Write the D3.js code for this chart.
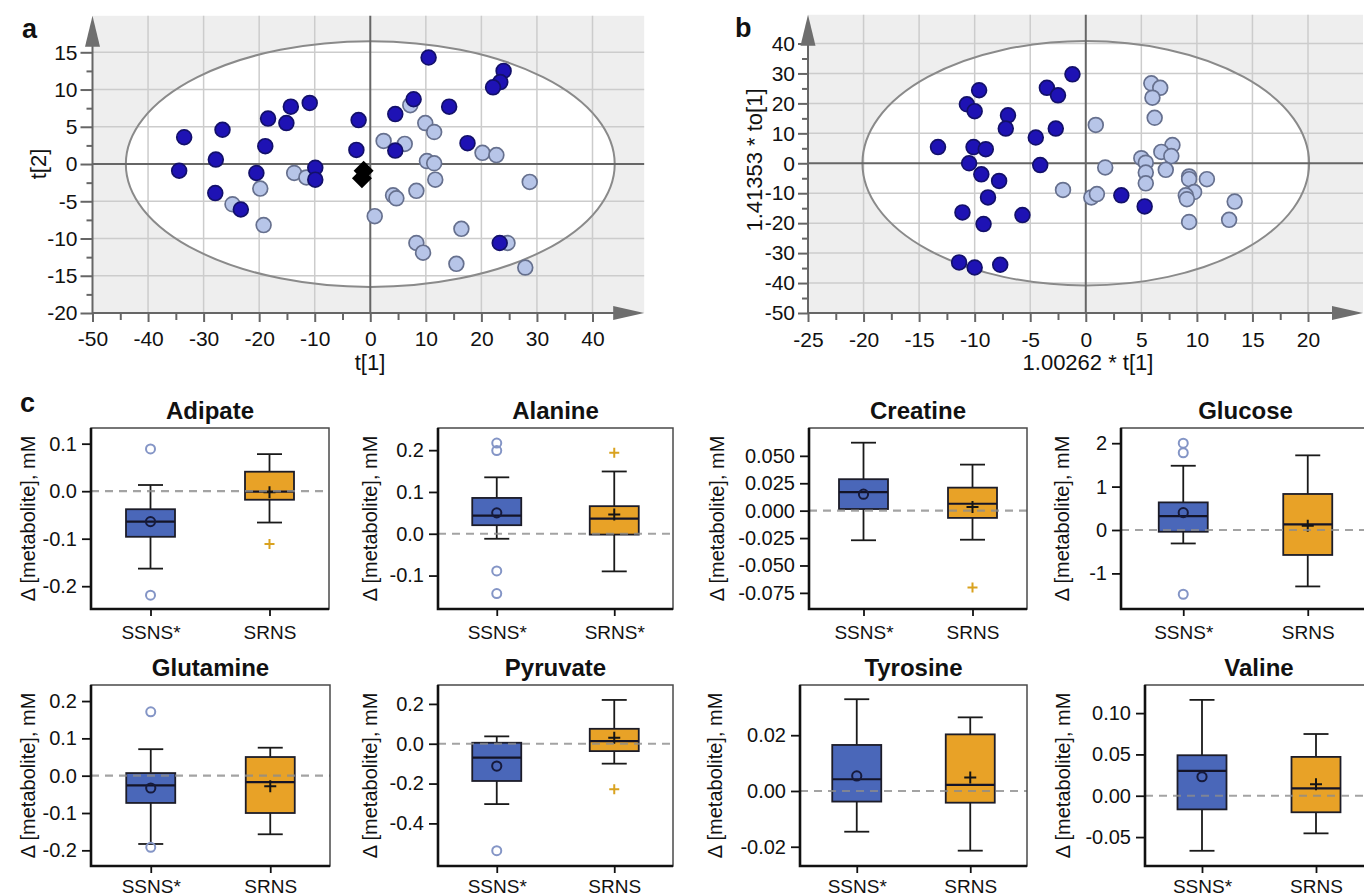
<!DOCTYPE html>
<html>
<head>
<meta charset="utf-8">
<script src="https://cdn.jsdelivr.net/npm/d3@7"></script>
<style>
  body { margin: 0; background: #fff; }
  text { font-family: "Liberation Sans", Arial, sans-serif; fill: #111; }
</style>
</head>
<body>
<svg id="fig" width="1364" height="896"></svg>
<script>
// ---- panel a: PCA scores t[1] / t[2] ----
var scoreADark = [[-33.5,3.6],[-34.4,-0.9],[-26.6,4.6],[-27.8,0.6],[-27.9,-3.9],[-23.3,-6.1],
  [-20.5,-1.2],[-18.9,2.4],[-18.4,6.1],[-15.1,5.5],[-14.3,7.7],[-10.9,8.2],[-9.9,-0.5],[-9.9,-2.1],
  [10.5,14.3],[24.0,12.5],[23.4,11.0],[22.1,10.3],[7.8,8.7],[14.2,7.7],[4.5,6.7],[-2.1,5.9],
  [-2.5,1.9],[4.5,1.8],[17.5,2.8],[23.3,-10.6]];
var scoreALight = [[-24.8,-5.4],[-19.8,-3.3],[-19.2,-8.2],[-13.7,-1.2],[-11.5,-1.8],[7.2,7.9],
  [9.9,5.5],[11.5,4.3],[2.4,3.1],[6.2,2.7],[20.2,1.5],[22.7,1.2],[10.2,0.4],[11.5,0.1],[11.7,-2.1],
  [28.7,-2.4],[4.1,-4.2],[4.7,-4.6],[8.3,-3.6],[0.8,-7.0],[16.4,-8.7],[8.3,-10.6],[9.5,-11.9],
  [24.7,-10.6],[15.5,-13.4],[27.9,-13.9]];
var scoreACentroid = [[-1.2,-0.9],[-1.5,-1.9]];
var ellipseA = [44, 16.5];

// ---- panel b: OPLS scores ----
var scoreBDark = [[-9.6,24.4],[-10.7,19.7],[-10.0,17.4],[-7.0,16.0],[-7.2,11.6],[-13.3,5.4],
  [-10.1,5.4],[-9.0,4.7],[-10.5,0],[-9.4,-3.7],[-7.8,-5.9],[-8.8,-11.4],[-11.1,-16.4],[-5.7,-17.3],
  [-9.2,-20.3],[-11.4,-33.1],[-10.0,-34.8],[-7.7,-33.9],[-4.5,8.6],[-4.1,-0.6],[-3.5,25.2],
  [-2.5,22.7],[-1.2,29.7],[-2.7,11.6],[3.2,-10.7],[5.3,-14.4]];
var scoreBLight = [[5.9,26.7],[6.7,25.2],[6.0,21.9],[6.2,15.2],[0.9,12.8],[7.8,6.1],[6.8,3.8],
  [7.7,2.4],[5.0,1.7],[5.4,0.2],[1.75,-1.4],[7.2,-2.2],[5.4,-3.1],[5.4,-6.7],[9.3,-4.4],[9.3,-5.3],
  [10.9,-5.3],[9.75,-9.6],[9.0,-10.7],[9.1,-12],[-2.05,-8.9],[0.5,-11.4],[1.0,-10.3],[13.4,-12.8],
  [9.3,-19.6],[12.9,-18.9]];
var ellipseB = [20.1, 40.8];

// ---- panel c: box plots ----
var metabolites = ['Adipate','Alanine','Creatine','Glucose','Glutamine','Pyruvate','Tyrosine','Valine'];
var groupLabels = [['SSNS*','SRNS'],['SSNS*','SRNS*'],['SSNS*','SRNS'],['SSNS*','SRNS'],
  ['SSNS*','SRNS'],['SSNS*','SRNS'],['SSNS*','SRNS'],['SSNS*','SRNS']];
// [lower whisker, Q1, median, Q3, upper whisker, mean]
var ssnsBox = [
  [-0.163,-0.096,-0.064,-0.038,0.013,-0.064],
  [-0.012,0.0205,0.0436,0.0857,0.135,0.050],
  [-0.027,0.0015,0.0169,0.0287,0.062,0.015],
  [-0.31,-0.04,0.32,0.636,1.48,0.40],
  [-0.183,-0.073,-0.026,0.007,0.071,-0.033],
  [-0.303,-0.187,-0.07,0.005,0.037,-0.112],
  [-0.0146,-0.0038,0.0042,0.0165,0.0329,0.0054],
  [-0.0666,-0.0165,0.030,0.049,0.116,0.023]
];
var srnsBox = [
  [-0.066,-0.018,-0.001,0.041,0.078,-0.002],
  [-0.090,-0.002,0.036,0.066,0.149,0.046],
  [-0.0265,-0.0066,0.0063,0.021,0.042,0.0033],
  [-1.30,-0.575,0.13,0.83,1.72,0.10],
  [-0.157,-0.10,-0.017,0.050,0.075,-0.028],
  [-0.10,-0.037,0.013,0.075,0.22,0.030],
  [-0.0214,-0.0042,0.0022,0.0203,0.0264,0.0048],
  [-0.0455,-0.020,0.009,0.047,0.0747,0.014]
];
var ssnsOutliers = [[0.089,-0.219],[0.217,0.199,-0.089,-0.143],[],[2.0,1.78,-1.48],[0.171,-0.192],[-0.537],[],[]];
var srnsOutliers = [[-0.111],[0.194],[-0.070],[],[],[-0.228],[],[]];
var yTicks = [[-0.2,-0.1,0,0.1],[-0.1,0,0.1,0.2],[-0.075,-0.05,-0.025,0,0.025,0.05],[-1,0,1,2],
  [-0.2,-0.1,0,0.1,0.2],[-0.4,-0.2,0,0.2],[-0.02,0,0.02],[-0.05,0,0.05,0.1]];
var yTickFormats = ['.1f','.1f','.3f','d','.1f','.1f','.2f','.2f'];
var yRanges = [[-0.248,0.133],[-0.180,0.253],[-0.0897,0.0754],[-1.82,2.35],[-0.242,0.243],
  [-0.614,0.295],[-0.0269,0.038],[-0.085,0.134]];

var svg = d3.select('#fig');
var FONT = '"Liberation Sans", Arial, sans-serif';

function fmt(f) {
  var base = d3.format(f);
  return function (v) { return base(v).replace('\u2212', '-'); };
}

// score scatter plot with gray frame, white ellipse and arrow axes
function scorePlot(o) {
  var g = svg.append('g');
  var x = d3.scaleLinear().domain(o.xDomain).range(o.xRange);
  var y = d3.scaleLinear().domain(o.yDomain).range(o.yRange);
  var left = x(o.xDomain[0]), bottom = y(o.yDomain[0]);
  var right = x(o.bgRight), top = y(o.bgTop);

  g.append('rect').attr('x', left).attr('y', top)
    .attr('width', right - left).attr('height', bottom - top).attr('fill', '#eeeeee');
  g.append('ellipse').attr('cx', x(0)).attr('cy', y(0))
    .attr('rx', x(o.ellipse[0]) - x(0)).attr('ry', y(0) - y(o.ellipse[1])).attr('fill', '#fff');

  g.selectAll('.vgrid').data(o.xGrid).enter().append('line')
    .attr('x1', function (d) { return x(d); }).attr('x2', function (d) { return x(d); })
    .attr('y1', top).attr('y2', bottom).attr('stroke', '#cccccc').attr('stroke-width', 1.5);
  g.selectAll('.hgrid').data(o.yGrid).enter().append('line')
    .attr('y1', function (d) { return y(d); }).attr('y2', function (d) { return y(d); })
    .attr('x1', left).attr('x2', right).attr('stroke', '#cccccc').attr('stroke-width', 1.5);

  g.append('ellipse').attr('cx', x(0)).attr('cy', y(0))
    .attr('rx', x(o.ellipse[0]) - x(0)).attr('ry', y(0) - y(o.ellipse[1]))
    .attr('fill', 'none').attr('stroke', '#8a8a8a').attr('stroke-width', 2);

  // lines through the origin
  g.append('line').attr('x1', x(0)).attr('x2', x(0)).attr('y1', top).attr('y2', bottom)
    .attr('stroke', '#666').attr('stroke-width', 2);
  g.append('line').attr('x1', left).attr('x2', right).attr('y1', y(0)).attr('y2', y(0))
    .attr('stroke', '#666').attr('stroke-width', 2);

  // axes
  g.append('g').attr('transform', 'translate(0,' + bottom + ')')
    .call(d3.axisBottom(x).tickValues(o.xTicks).tickSize(9).tickPadding(o.xPad).tickFormat(fmt('d')));
  g.append('g').attr('transform', 'translate(0,' + bottom + ')')
    .call(d3.axisBottom(x).tickValues(o.xMinor).tickSize(7).tickFormat(''));
  g.append('g').attr('transform', 'translate(' + left + ',0)')
    .call(d3.axisLeft(y).tickValues(o.yTicks).tickSize(o.yTickLen).tickPadding(3).tickFormat(fmt('d')));
  g.append('g').attr('transform', 'translate(' + left + ',0)')
    .call(d3.axisLeft(y).tickValues(o.yMinor).tickSize(6).tickFormat(''));
  g.selectAll('.domain').remove();
  g.selectAll('.tick line').attr('stroke', '#666').attr('stroke-width', 2);
  g.selectAll('.tick text').style('font-family', FONT).style('font-size', '21px').attr('fill', '#111');

  g.append('line').attr('x1', left).attr('x2', right - 20).attr('y1', bottom).attr('y2', bottom)
    .attr('stroke', '#666').attr('stroke-width', 2);
  g.append('line').attr('x1', left).attr('x2', left).attr('y1', bottom).attr('y2', top + 20)
    .attr('stroke', '#666').attr('stroke-width', 2);
  g.append('path').attr('fill', '#6e6e6e')
    .attr('d', 'M' + right + ',' + bottom + 'L' + (right - 31) + ',' + (bottom - 7) + 'L' + (right - 31) + ',' + (bottom + 7) + 'Z');
  g.append('path').attr('fill', '#6e6e6e')
    .attr('d', 'M' + left + ',' + top + 'L' + (left - 7.5) + ',' + (top + 31) + 'L' + (left + 7.5) + ',' + (top + 31) + 'Z');

  // points
  g.selectAll('.light').data(o.light).enter().append('circle')
    .attr('cx', function (d) { return x(d[0]); }).attr('cy', function (d) { return y(d[1]); })
    .attr('r', 7.4).attr('fill', '#b7c5e8').attr('stroke', '#66708e').attr('stroke-width', 1.7);
  g.selectAll('.dark').data(o.dark).enter().append('circle')
    .attr('cx', function (d) { return x(d[0]); }).attr('cy', function (d) { return y(d[1]); })
    .attr('r', 7.4).attr('fill', '#1e12b4').attr('stroke', '#13106a').attr('stroke-width', 1.7);
  if (o.centroid) {
    g.selectAll('.cent').data(o.centroid).enter().append('path')
      .attr('d', d3.symbol(d3.symbolSquare, 200))
      .attr('transform', function (d) { return 'translate(' + x(d[0]) + ',' + y(d[1]) + ') rotate(45)'; })
      .attr('fill', '#000');
  }

  // axis titles
  g.append('text').attr('x', o.xTitlePos[0]).attr('y', o.xTitlePos[1])
    .attr('text-anchor', 'middle').style('font-size', '22px').text(o.xTitle);
  g.append('text').attr('transform', 'translate(' + o.yTitlePos[0] + ',' + o.yTitlePos[1] + ') rotate(-90)')
    .attr('text-anchor', 'middle').attr('dominant-baseline', 'central')
    .style('font-size', '22px').text(o.yTitle);
}

scorePlot({
  xDomain: [-50, 40], xRange: [92.5, 592.5], yDomain: [-20, 15], yRange: [313, 52.3],
  bgRight: 49.3, bgTop: 19.9, ellipse: ellipseA,
  xGrid: [-40, -30, -20, -10, 10, 20, 30, 40], yGrid: [-15, -10, -5, 5, 10, 15],
  xTicks: d3.range(-50, 41, 10), xMinor: d3.range(-45, 36, 10), xPad: 9,
  yTicks: d3.range(-20, 16, 5), yMinor: d3.range(-17.5, 15, 5), yTickLen: 12,
  light: scoreALight, dark: scoreADark, centroid: scoreACentroid,
  xTitle: 't[1]', xTitlePos: [370, 370], yTitle: 't[2]', yTitlePos: [38, 164]
});

scorePlot({
  xDomain: [-25, 20], xRange: [808, 1308], yDomain: [-50, 40], yRange: [313, 43.5],
  bgRight: 24.95, bgTop: 49.6, ellipse: ellipseB,
  xGrid: [-20, -15, -10, -5, 5, 10, 15, 20], yGrid: [-40, -30, -20, -10, 10, 20, 30, 40],
  xTicks: d3.range(-25, 21, 5), xMinor: d3.range(-22.5, 20, 5), xPad: 10,
  yTicks: d3.range(-50, 41, 10), yMinor: d3.range(-45, 36, 10), yTickLen: 10,
  light: scoreBLight, dark: scoreBDark, centroid: null,
  xTitle: '1.00262 * t[1]', xTitlePos: [1088, 370], yTitle: '1.41353 * to[1]', yTitlePos: [754, 160]
});

// panel letters
[['a', 22, 38], ['b', 735, 37], ['c', 20, 412]].forEach(function (l) {
  svg.append('text').attr('x', l[1]).attr('y', l[2]).style('font-size', '27px')
    .style('font-weight', 'bold').text(l[0]);
});

// ---- box plots ----
var frames = [
  [91, 329, 428, 609], [438, 673, 428, 609], [809, 1027, 428, 609], [1121, 1370, 428, 609],
  [91, 330, 685, 866], [438, 673, 685, 866], [800, 1027, 685, 866], [1145, 1373, 685, 866]
];
var yLabelX = [28, 370, 717, 1062, 28, 370, 715, 1063];
var boxColors = ['#4a67b9', '#e8a227'];

function boxPanel(i) {
  var f = frames[i];
  var g = svg.append('g');
  var x = d3.scalePoint().domain([0, 1]).range([f[0], f[1]]).padding(0.5);
  var y = d3.scaleLinear().domain(yRanges[i]).range([f[3], f[2]]);
  var bw = 49, cw = 25;

  [ssnsBox[i], srnsBox[i]].forEach(function (s, k) {
    var cx = x(k);
    var bg = g.append('g');
    bg.append('line').attr('x1', cx).attr('x2', cx).attr('y1', y(s[4])).attr('y2', y(s[3]))
      .attr('stroke', '#1a1a1a').attr('stroke-width', 1.8);
    bg.append('line').attr('x1', cx).attr('x2', cx).attr('y1', y(s[1])).attr('y2', y(s[0]))
      .attr('stroke', '#1a1a1a').attr('stroke-width', 1.8);
    [s[0], s[4]].forEach(function (v) {
      bg.append('line').attr('x1', cx - cw / 2).attr('x2', cx + cw / 2).attr('y1', y(v)).attr('y2', y(v))
        .attr('stroke', '#1a1a1a').attr('stroke-width', 1.8);
    });
    bg.append('rect').attr('x', cx - bw / 2).attr('y', y(s[3])).attr('width', bw)
      .attr('height', y(s[1]) - y(s[3])).attr('fill', boxColors[k])
      .attr('stroke', '#1c1c28').attr('stroke-width', 1.8);
    bg.append('line').attr('x1', cx - bw / 2).attr('x2', cx + bw / 2).attr('y1', y(s[2])).attr('y2', y(s[2]))
      .attr('stroke', '#141428').attr('stroke-width', 2.2);
    if (k === 0) {
      bg.append('circle').attr('cx', cx).attr('cy', y(s[5])).attr('r', 4.6)
        .attr('fill', 'none').attr('stroke', '#161a3c').attr('stroke-width', 2);
    } else {
      bg.append('path').attr('d', 'M' + (cx - 6) + ',' + y(s[5]) + 'h12M' + cx + ',' + (y(s[5]) - 6) + 'v12')
        .attr('stroke', '#151515').attr('stroke-width', 2);
    }
  });

  g.selectAll('.o1').data(ssnsOutliers[i]).enter().append('circle')
    .attr('cx', x(0)).attr('cy', function (d) { return y(d); }).attr('r', 4.5)
    .attr('fill', 'none').attr('stroke', '#8495c6').attr('stroke-width', 2);
  g.selectAll('.o2').data(srnsOutliers[i]).enter().append('path')
    .attr('d', function (d) { return 'M' + (x(1) - 5) + ',' + y(d) + 'h10M' + x(1) + ',' + (y(d) - 5) + 'v10'; })
    .attr('stroke', '#d9a21f').attr('stroke-width', 2);

  // zero reference line
  g.append('line').attr('x1', f[0]).attr('x2', f[1]).attr('y1', y(0)).attr('y2', y(0))
    .attr('stroke', '#8c8c8c').attr('stroke-width', 2.2).attr('stroke-dasharray', '8,6')
    .attr('stroke-opacity', 0.8);

  // frame
  g.append('rect').attr('x', f[0]).attr('y', f[2]).attr('width', f[1] - f[0]).attr('height', f[3] - f[2])
    .attr('fill', 'none').attr('stroke', '#4a4a4a').attr('stroke-width', 1.5);
  g.append('path').attr('d', 'M' + f[0] + ',' + f[2] + 'V' + f[3] + 'H' + f[1])
    .attr('fill', 'none').attr('stroke', '#111').attr('stroke-width', 2.6);

  var ay = g.append('g').attr('transform', 'translate(' + f[0] + ',0)')
    .call(d3.axisLeft(y).tickValues(yTicks[i]).tickSize(9).tickPadding(5).tickFormat(fmt(yTickFormats[i])));
  ay.selectAll('text').style('font-size', '20px');
  var ax = g.append('g').attr('transform', 'translate(0,' + f[3] + ')')
    .call(d3.axisBottom(x).tickSize(7).tickPadding(i < 4 ? 10 : 7)
      .tickFormat(function (k) { return groupLabels[i][k]; }));
  ax.selectAll('text').style('font-size', '19px');
  g.selectAll('.domain').remove();
  g.selectAll('.tick line').attr('stroke', '#111').attr('stroke-width', 1.8);
  g.selectAll('.tick text').style('font-family', FONT).attr('fill', '#111');

  g.append('text').attr('x', (f[0] + f[1]) / 2).attr('y', f[2] - 9).attr('text-anchor', 'middle')
    .style('font-size', '24px').style('font-weight', 'bold').text(metabolites[i]);
  g.append('text').attr('transform', 'translate(' + yLabelX[i] + ',' + ((f[2] + f[3]) / 2) + ') rotate(-90)')
    .attr('text-anchor', 'middle').attr('dominant-baseline', 'central')
    .style('font-size', '20px').text('\u0394 [metabolite], mM');
}

metabolites.forEach(function (m, i) { boxPanel(i); });
</script>
</body>
</html>
